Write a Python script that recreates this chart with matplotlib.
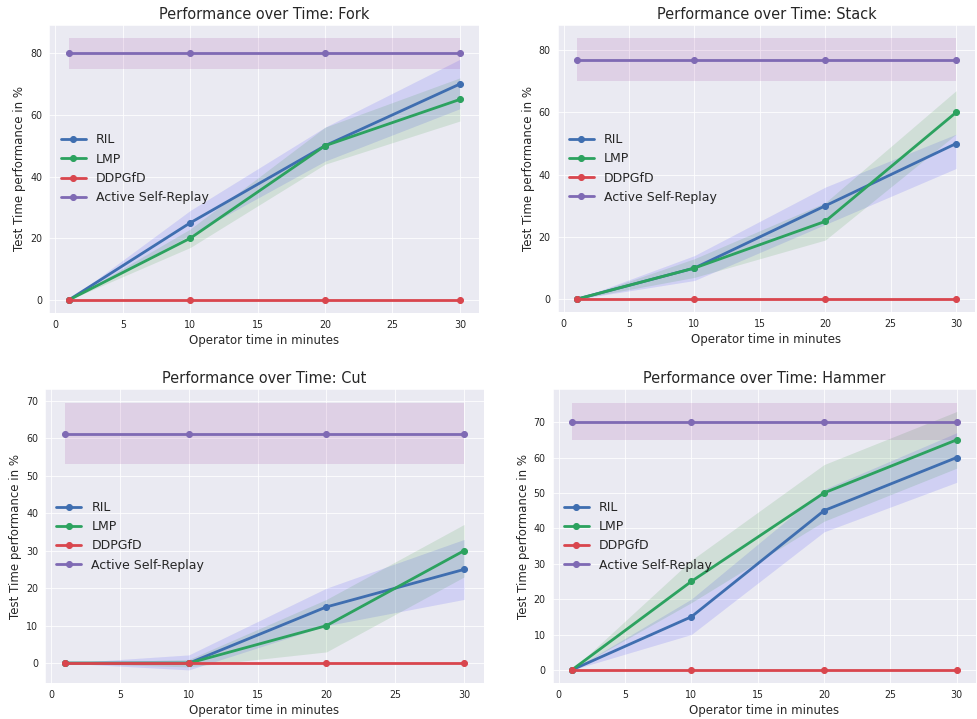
import matplotlib
matplotlib.use("Agg")
import matplotlib.pyplot as plt
import seaborn as sns

sns.set_style("darkgrid")
plt.rcParams['font.family'] = ['DejaVu Sans']

minutes = [1, 10, 20, 30]
methods = ["RIL", "LMP", "DDPGfD", "Active Self-Replay"]
line_colors = ["#3F6EB0", "#2CA25F", "#D9464E", "#7F6AB4"]
fill_colors = ["blue", "green", "red", "purple"]

# per task: mean, lower, upper for each method (None = no band)
fork_mean = [[0, 25, 50, 70], [0, 20, 50, 65], [0, 0, 0, 0], [80, 80, 80, 80]]
fork_low = [[0, 21, 45, 62], [0, 17, 44, 58], None, [75, 75, 75, 75]]
fork_high = [[0, 29, 56, 78], [0, 23, 56, 72], None, [85, 85, 85, 85]]

stack_mean = [[0, 10, 30, 50], [0, 10, 25, 60], [0, 0, 0, 0], [77, 77, 77, 77]]
stack_low = [[0, 6, 24, 42], [0, 7, 19, 53], None, [70, 70, 70, 70]]
stack_high = [[0, 14, 36, 53], [0, 13, 31, 67], None, [84, 84, 84, 84]]

cut_mean = [[0, 0, 15, 25], [0, 0, 10, 30], [0, 0, 0, 0], [61, 61, 61, 61]]
cut_low = [[0, -1.8, 10, 17], [0, -1, 3, 23], None, [53, 53, 53, 53]]
cut_high = [[0, 2.2, 20, 33], [0, 1, 17, 37], None, [69.5, 69.5, 69.5, 69.5]]

hammer_mean = [[0, 15, 45, 60], [0, 25, 50, 65], [0, 0, 0, 0], [70, 70, 70, 70]]
hammer_low = [[0, 10, 39, 53], [0, 19, 42, 57], None, [65, 65, 65, 65]]
hammer_high = [[0, 20, 51, 67], [0, 31, 58, 73], None, [75.5, 75.5, 75.5, 75.5]]

tasks = [
    ("Fork", fork_mean, fork_low, fork_high, [0.0505, 0.5646, 0.4402, 0.4011]),
    ("Stack", stack_mean, stack_low, stack_high, [0.5708, 0.5657, 0.4272, 0.4000]),
    ("Cut", cut_mean, cut_low, cut_high, [0.0461, 0.0497, 0.4493, 0.4089]),
    ("Hammer", hammer_mean, hammer_low, hammer_high, [0.5657, 0.0497, 0.4333, 0.4089]),
]

fig = plt.figure(figsize=(977 / 72, 719 / 72), dpi=72)

for name, means, lows, highs, pos in tasks:
    ax = fig.add_axes(pos)
    for i in range(len(methods)):
        ax.plot(minutes, means[i], marker='o', color=line_colors[i], linewidth=2.8,
                markersize=6, label=methods[i])
        if lows[i] is not None:
            ax.fill_between(minutes, lows[i], highs[i], color=fill_colors[i],
                            alpha=0.11, linewidth=0)
    ax.set_title("Performance over Time: " + name, fontsize=14.5, color='.15')
    ax.set_xlabel("Operator time in minutes", fontsize=11.7, color='.15')
    ax.set_ylabel("Test Time performance in %", fontsize=11.7, color='.15')
    ax.tick_params(labelsize=9.5, colors='.15')
    ax.legend(loc='center left', fontsize=12.5, frameon=False)

fig.savefig("out.png", dpi=72)
